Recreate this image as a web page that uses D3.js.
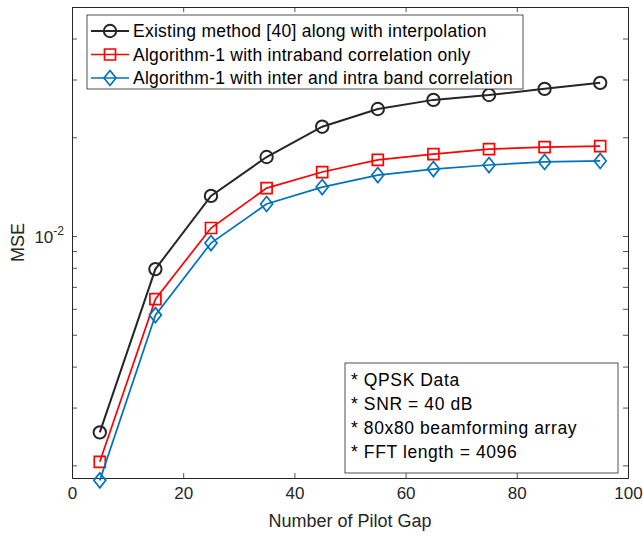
<!DOCTYPE html>
<html>
<head>
<meta charset="utf-8">
<script src="https://cdn.jsdelivr.net/npm/d3@7"></script>
<style>
  body { margin: 0; background: #fff; }
  svg { font-family: "Liberation Sans", Arial, Helvetica, sans-serif; }
</style>
</head>
<body>
<div id="chart"></div>
<script>
// pilot gap values
const pilotGap = [5, 15, 25, 35, 45, 55, 65, 75, 85, 95]

// MSE
const existingMse = [0.00252, 0.00793, 0.01325, 0.01741, 0.02154, 0.02439, 0.0260, 0.0269, 0.0281, 0.0293]
const intraMse = [0.00205, 0.00642, 0.01058, 0.01400, 0.01567, 0.01706, 0.01778, 0.01841, 0.01867, 0.01880]
const interIntraMse = [0.00180, 0.00574, 0.00952, 0.01252, 0.01410, 0.01534, 0.01600, 0.01646, 0.01682, 0.01694]

const seriesNames = [
  "Existing method [40] along with interpolation",
  "Algorithm-1 with intraband correlation only",
  "Algorithm-1 with inter and intra band correlation"
]
const xTicks = [0, 20, 40, 60, 80, 100]
const noteLines = ["* QPSK Data", "* SNR = 40 dB", "* 80x80 beamforming array", "* FFT length = 4096"]

const width = 643, height = 536
const margin = {left: 72, right: 15, top: 7, bottom: 58}
const axisColor = "#262626"

const svg = d3.select("#chart").append("svg")
    .attr("width", width)
    .attr("height", height)

const x = d3.scaleLinear().domain([0, 100]).range([margin.left, width - margin.right])
const y = d3.scaleLog().domain([0.00183, 0.0499]).range([height - margin.bottom, margin.top])

const plotW = width - margin.left - margin.right
const plotH = height - margin.top - margin.bottom

// minor log ticks
const minorTicks = [0.002,0.003,0.004,0.005,0.006,0.007,0.008,0.009,0.02,0.03,0.04]

const g = svg.append("g")

// bottom & top x axes
g.append("g")
  .attr("transform", `translate(0,${height - margin.bottom})`)
  .call(d3.axisBottom(x).tickValues(xTicks).tickSize(-5).tickPadding(9).tickFormat(d3.format("d")))
g.append("g")
  .attr("transform", `translate(0,${margin.top})`)
  .call(d3.axisTop(x).tickValues(xTicks).tickSize(-5).tickFormat(""))

// left & right y axes
g.append("g")
  .attr("transform", `translate(${margin.left},0)`)
  .call(d3.axisLeft(y).tickValues([0.01].concat(minorTicks)).tickSize(-5).tickFormat(""))
g.append("g")
  .attr("transform", `translate(${width - margin.right},0)`)
  .call(d3.axisRight(y).tickValues([0.01].concat(minorTicks)).tickSize(-5).tickFormat(""))

g.selectAll(".domain").attr("stroke", axisColor).attr("stroke-width", 1)
g.selectAll(".tick line").attr("stroke", axisColor).attr("stroke-width", 0.8)
g.selectAll(".tick text").attr("fill", axisColor).style("font-size", "17px")

// 10^-2 label
const lab = svg.append("text")
    .attr("x", margin.left - 8)
    .attr("y", y(0.01) + 7)
    .attr("text-anchor", "end")
    .attr("fill", axisColor)
    .style("font-size", "17px")
lab.append("tspan").text("10")
lab.append("tspan").attr("dy", -8).style("font-size", "12px").text("-2")

// axis titles
svg.append("text")
    .attr("x", margin.left + plotW / 2)
    .attr("y", 527)
    .attr("text-anchor", "middle")
    .attr("fill", axisColor)
    .style("font-size", "18px")
    .text("Number of Pilot Gap")

svg.append("text")
    .attr("transform", `translate(24,${margin.top + plotH / 2}) rotate(-90)`)
    .attr("text-anchor", "middle")
    .attr("fill", axisColor)
    .style("font-size", "18px")
    .text("MSE")

const series = [
  {name: seriesNames[0], values: existingMse, color: "#262626", marker: "circle", lw: 2},
  {name: seriesNames[1], values: intraMse, color: "#ff0000", marker: "square", lw: 1.7},
  {name: seriesNames[2], values: interIntraMse, color: "#0072bd", marker: "diamond", lw: 1.7}
]

const markerPath = (type) => {
  if (type === "circle") return d3.symbol(d3.symbolCircle, 120)()
  if (type === "square") return "M-5.5,-5.5H5.5V5.5H-5.5Z"
  return "M0,-7.5L6,0L0,7.5L-6,0Z"
}

const line = d3.line().x((d, i) => x(pilotGap[i])).y(d => y(d))

series.forEach(s => {
  svg.append("path")
    .datum(s.values)
    .attr("d", line)
    .attr("fill", "none")
    .attr("stroke", s.color)
    .attr("stroke-width", s.lw)

  svg.selectAll(null)
    .data(s.values)
    .join("path")
    .attr("transform", (d, i) => `translate(${x(pilotGap[i])},${y(d)})`)
    .attr("d", markerPath(s.marker))
    .attr("fill", "none")
    .attr("stroke", s.color)
    .attr("stroke-width", s.lw)
})

// legend
const leg = svg.append("g")
leg.append("rect")
    .attr("x", 87).attr("y", 15)
    .attr("width", 436).attr("height", 74)
    .attr("fill", "#fff")
    .attr("stroke", axisColor)
    .attr("stroke-width", 0.8)

series.forEach((s, i) => {
  const yy = 31 + i * 23.5
  leg.append("line")
    .attr("x1", 91).attr("x2", 129)
    .attr("y1", yy).attr("y2", yy)
    .attr("stroke", s.color).attr("stroke-width", s.lw)
  leg.append("path")
    .attr("transform", `translate(110,${yy})`)
    .attr("d", markerPath(s.marker))
    .attr("fill", "none")
    .attr("stroke", s.color)
    .attr("stroke-width", s.lw)
  leg.append("text")
    .attr("x", 133).attr("y", yy + 6)
    .attr("fill", "#000")
    .style("font-size", "17.5px")
    .style("letter-spacing", "0.25px")
    .text(s.name)
})

// annotation box
const note = svg.append("g")
note.append("rect")
    .attr("x", 345).attr("y", 363)
    .attr("width", 273).attr("height", 110)
    .attr("fill", "#fff")
    .attr("stroke", axisColor)
    .attr("stroke-width", 0.8)

noteLines.forEach((t, i) => {
  note.append("text")
    .attr("x", 351)
    .attr("y", 386 + i * 24)
    .attr("fill", "#000")
    .style("font-size", "17.5px")
    .style("letter-spacing", "0.6px")
    .text(t)
})
</script>
</body>
</html>
